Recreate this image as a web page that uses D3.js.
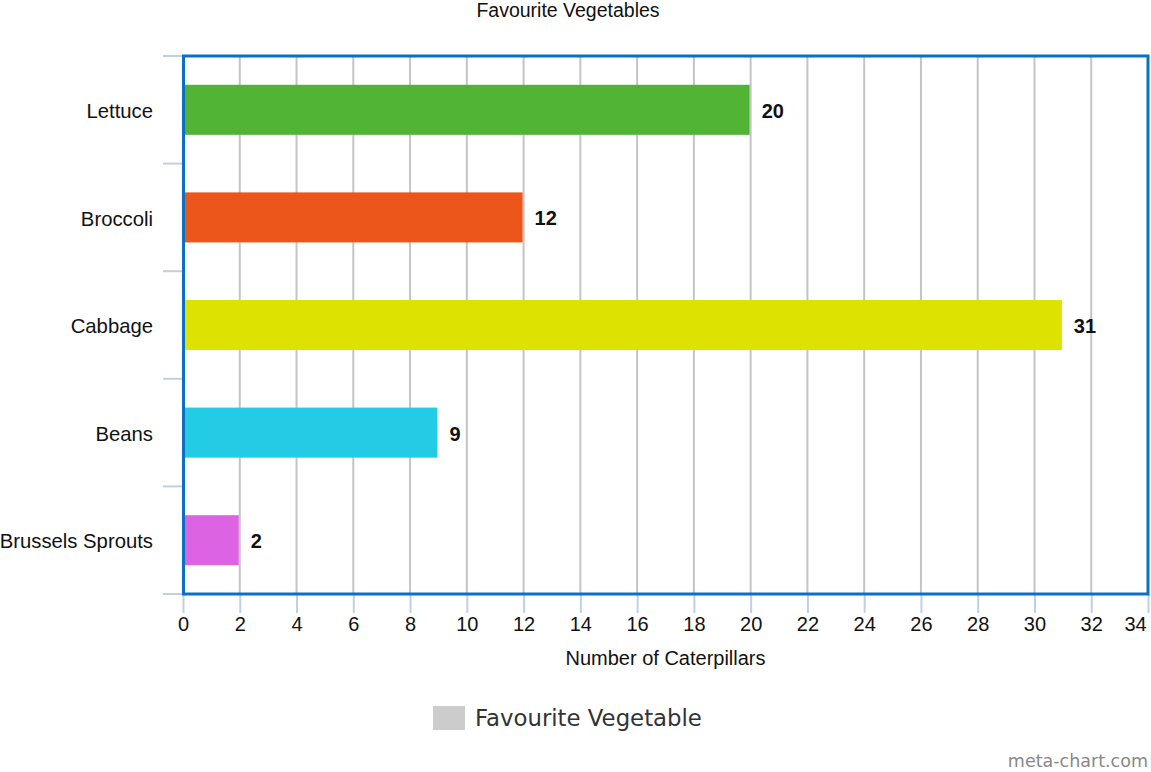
<!DOCTYPE html>
<html>
<head>
<meta charset="utf-8">
<script src="https://cdn.jsdelivr.net/npm/d3@7"></script>
<style>
  body { margin: 0; background: #fff; }
  svg { display: block; }
</style>
</head>
<body>
<div id="chart"></div>
<script>
const categories = ["Lettuce", "Broccoli", "Cabbage", "Beans", "Brussels Sprouts"];
const values = [20, 12, 31, 9, 2];
const barColors = ["#52b434", "#ec561b", "#dde200", "#24cbe5", "#dc64e3"];
const xTicks = d3.range(0, 35, 2);

const width = 1151;
const height = 772;
const plot = { left: 183, right: 1148, top: 56, bottom: 594 };
const font = "Liberation Sans, Arial, sans-serif";

const svg = d3.select("#chart")
  .append("svg")
  .attr("width", width)
  .attr("height", height);

const x = d3.scaleLinear().domain([0, 34]).range([plot.left, plot.right]);
const y = d3.scaleBand()
  .domain(categories)
  .range([plot.top, plot.bottom])
  .paddingInner(0.535)
  .paddingOuter(0.2675);

// title
svg.append("text")
  .attr("x", 568)
  .attr("y", 17)
  .attr("text-anchor", "middle")
  .attr("font-family", font)
  .attr("font-size", "19.5px")
  .attr("fill", "#111")
  .text("Favourite Vegetables");

// grid lines
svg.append("g")
  .selectAll("line")
  .data(xTicks.filter(d => d > 0 && d < 34))
  .join("line")
  .attr("x1", d => x(d)).attr("x2", d => x(d))
  .attr("y1", plot.top).attr("y2", plot.bottom)
  .attr("stroke", "#c4c4c4")
  .attr("stroke-width", 2);

// bottom axis ticks (light blue)
const xAxis = svg.append("g")
  .attr("transform", `translate(0,${plot.bottom})`)
  .call(d3.axisBottom(x).tickValues(xTicks).tickSize(19).tickPadding(4).tickSizeOuter(0));
xAxis.select(".domain").remove();
xAxis.selectAll(".tick line").attr("stroke", "#c0d0e0").attr("stroke-width", 2);
xAxis.selectAll(".tick text")
  .attr("font-family", font)
  .attr("font-size", "20px")
  .attr("fill", "#111");
xAxis.selectAll(".tick text").filter(d => d === 34).attr("dx", -13);

// left category boundary ticks
const bounds = d3.range(categories.length + 1).map(i => plot.top + i * y.step());
svg.append("g")
  .selectAll("line")
  .data(bounds)
  .join("line")
  .attr("x1", 163).attr("x2", plot.left)
  .attr("y1", d => d).attr("y2", d => d)
  .attr("stroke", "#c0d0e0")
  .attr("stroke-width", 2);

// category labels
svg.append("g")
  .selectAll("text")
  .data(categories)
  .join("text")
  .attr("x", 153)
  .attr("y", d => y(d) + y.bandwidth() / 2)
  .attr("dy", "0.4em")
  .attr("text-anchor", "end")
  .attr("font-family", font)
  .attr("font-size", "20.3px")
  .attr("fill", "#111")
  .text(d => d);

// bars
svg.append("g")
  .selectAll("rect")
  .data(categories)
  .join("rect")
  .attr("x", x(0) + 2)
  .attr("y", d => y(d))
  .attr("width", (d, i) => x(values[i]) - x(0) - 3)
  .attr("height", y.bandwidth())
  .attr("fill", (d, i) => barColors[i]);

// value labels
svg.append("g")
  .selectAll("text")
  .data(categories)
  .join("text")
  .attr("x", (d, i) => x(values[i]) + 11)
  .attr("y", d => y(d) + y.bandwidth() / 2)
  .attr("dy", "0.4em")
  .attr("font-family", font)
  .attr("font-size", "20px")
  .attr("font-weight", "bold")
  .attr("fill", "#111")
  .text((d, i) => values[i]);

// plot border
svg.append("rect")
  .attr("x", plot.left + 0.5)
  .attr("y", plot.top)
  .attr("width", plot.right - plot.left - 0.5)
  .attr("height", plot.bottom - plot.top)
  .attr("fill", "none")
  .attr("stroke", "#0b70c1")
  .attr("stroke-width", 3);

// axis title
svg.append("text")
  .attr("x", (plot.left + plot.right) / 2)
  .attr("y", 665)
  .attr("text-anchor", "middle")
  .attr("font-family", font)
  .attr("font-size", "20px")
  .attr("fill", "#111")
  .text("Number of Caterpillars");

// legend
const legend = svg.append("g").attr("transform", "translate(433,706)");
legend.append("rect")
  .attr("width", 32).attr("height", 24)
  .attr("fill", "#cccccc");
legend.append("text")
  .attr("x", 42)
  .attr("y", 20)
  .attr("font-family", "DejaVu Sans, sans-serif")
  .attr("font-size", "22.8px")
  .attr("fill", "#333")
  .text("Favourite Vegetable");

// watermark
svg.append("text")
  .attr("x", 1148)
  .attr("y", 767)
  .attr("text-anchor", "end")
  .attr("font-family", "DejaVu Sans, sans-serif")
  .attr("font-size", "17.5px")
  .attr("fill", "#888")
  .text("meta-chart.com");
</script>
</body>
</html>
